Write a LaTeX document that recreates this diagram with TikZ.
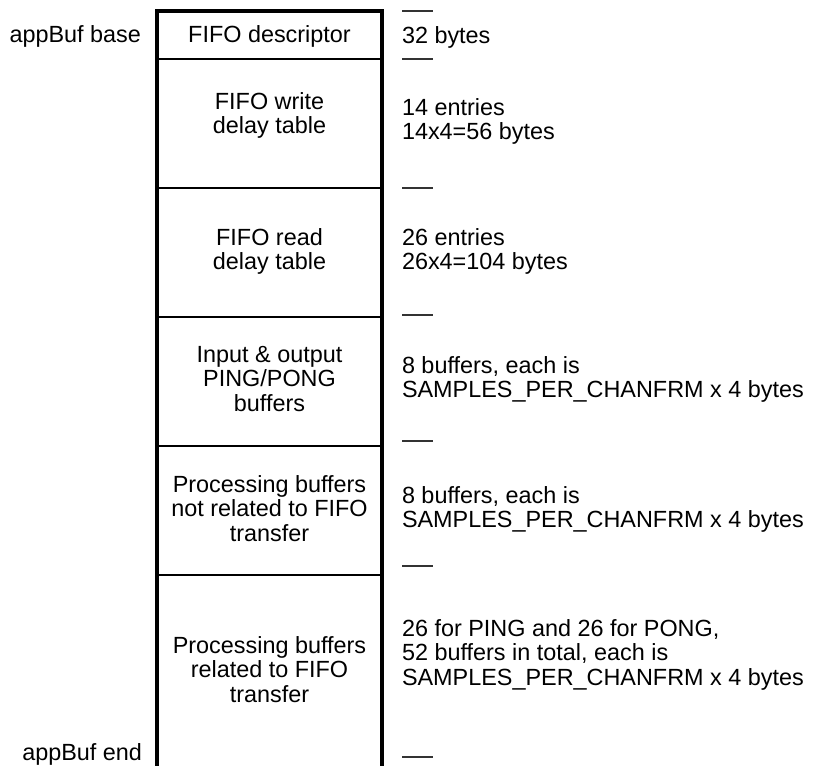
\documentclass[tikz,border=0pt]{standalone}
\usepackage{fontspec}
\setmainfont{Liberation Sans}
\newcommand\cellrows[1]{\begin{tabular}[t]{@{}c@{}}#1\end{tabular}}
\newcommand\noterows[1]{\begin{tabular}[t]{@{}l@{}}#1\end{tabular}}
\begin{document}
\begin{tikzpicture}[x=1bp,y=-1bp,
  every node/.style={inner sep=0pt, outer sep=0pt, font=\fontsize{23.4bp}{24.5bp}\selectfont},
  cell/.style={anchor=base},
  note/.style={anchor=base west},
  tag/.style={anchor=base east},
  wall/.style={line width=4bp, line join=miter},
  sep/.style={line width=2.2bp},
  tick/.style={line width=1.2bp, black!80}]
\useasboundingbox (0,0) rectangle (816,766);

% outer walls of the memory map
\coordinate (bl) at (157,766);
\coordinate (tl) at (157,11);
\coordinate (tr) at (382,11);
\coordinate (br) at (382,766);
\draw[wall] (bl) -- (tl) -- (tr) -- (br);

% dividers
\foreach \y [count=\i] in {59,188,317,446,575}{
  \coordinate (dl\i) at (157,\y);
  \coordinate (dr\i) at (382,\y);
  \draw[sep] (dl\i) -- (dr\i);
}

% ticks on the right
\foreach \y [count=\i] in {11,59,188,315,441,566,757}{
  \coordinate (ta\i) at (402,\y);
  \coordinate (tb\i) at (433,\y);
  \draw[tick] (ta\i) -- (tb\i);
}

% left labels
\node[tag] (base) at (141,43) {appBuf base};
\node[tag] (end) at (142,760) {appBuf end};

% cell texts
\node[cell] (c1) at (269.5,43) {FIFO descriptor};
\node[cell] (c2) at (269.5,109) {\cellrows{FIFO write\\delay table}};
\node[cell] (c3) at (269.5,245) {\cellrows{FIFO read\\delay table}};
\node[cell] (c4) at (269.5,362) {\cellrows{Input \& output\\PING/PONG\\buffers}};
\node[cell] (c5) at (269.5,492) {\cellrows{Processing buffers\\not related to FIFO\\transfer}};
\node[cell] (c6) at (269.5,653) {\cellrows{Processing buffers\\related to FIFO\\transfer}};

% size notes
\node[note] (n1) at (402,44) {32 bytes};
\node[note] (n2) at (402,115) {\noterows{14 entries\\14x4=56 bytes}};
\node[note] (n3) at (402,245) {\noterows{26 entries\\26x4=104 bytes}};
\node[note] (n4) at (402,373) {\noterows{8 buffers, each is\\SAMPLES\_PER\_CHANFRM x 4 bytes}};
\node[note] (n5) at (402,503) {\noterows{8 buffers, each is\\SAMPLES\_PER\_CHANFRM x 4 bytes}};
\node[note] (n6) at (402,636) {\noterows{26 for PING and 26 for PONG,\\52 buffers in total, each is\\SAMPLES\_PER\_CHANFRM x 4 bytes}};
\end{tikzpicture}
\end{document}
